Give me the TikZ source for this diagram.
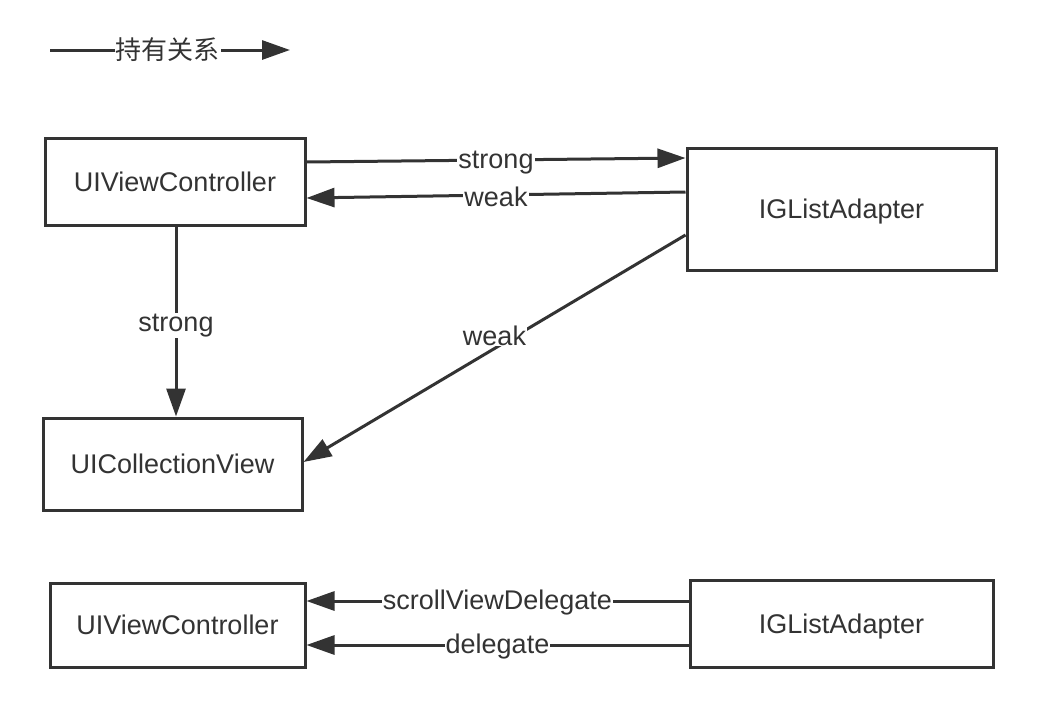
\documentclass[tikz,border=0pt]{standalone}
\usepackage{fontspec}
\setmainfont{Liberation Sans}
\newfontfamily\cjk{Noto Sans CJK SC}
\usetikzlibrary{arrows.meta}
\definecolor{ink}{HTML}{333333}
\begin{document}
\begin{tikzpicture}[x=1pt,y=-1pt,
  box/.style={draw=ink, line width=3pt, text=ink, minimum width=#1, font=\fontsize{27}{31}\selectfont, inner sep=0pt, text depth=0pt},
  link/.style={draw=ink, line width=3pt, -{Triangle[length=28pt,width=19pt]}},
  tag/.style={fill=white, text=ink, inner sep=1pt, font=\fontsize{27}{31}\selectfont}]
\useasboundingbox[fill=white] (0,0) rectangle (1050,720);

% legend
\coordinate (legA) at (50,50);
\coordinate (legB) at (290,50);
\draw[link] (legA) -- (legB) node[tag, pos=0.49, font=\fontsize{26}{30}\selectfont] {\cjk 持有关系};

% boxes
\node[box=260pt, minimum height=87pt] (vc)  at (175,181.5) {UIViewController};
\node[box=309pt, minimum height=122pt] (ad) at (841.5,209) {IGListAdapter};
\node[box=259pt, minimum height=92pt] (cv)  at (172.5,464) {UICollectionView};
\node[box=255pt, minimum height=84pt] (vc2) at (177.5,625) {UIViewController};
\node[box=303pt, minimum height=87pt] (ad2) at (841.5,623.5) {IGListAdapter};

% ownership links
\draw[link] ([yshift=19.5pt]vc.east) -- ([yshift=51pt]ad.west) node[tag, midway, yshift=-3pt] {strong};
\draw[link] ([yshift=17pt]ad.west) -- ([yshift=-16.5pt]vc.east) node[tag, midway, yshift=-2pt] {weak};
\draw[link] ([xshift=1pt]vc.south) -- ([xshift=3.5pt]cv.north) node[tag, midway, yshift=-4pt] {strong};
\draw[link] ([yshift=-26pt]ad.west) -- ([yshift=2pt]cv.east) node[tag, pos=0.5, yshift=13pt] {weak};

% delegate links
\draw[link] ([yshift=22.5pt]ad2.west) -- ([yshift=24pt]vc2.east) node[tag, midway, yshift=-2pt] {scrollViewDelegate};
\draw[link] ([yshift=-21.5pt]ad2.west) -- ([yshift=-20pt]vc2.east) node[tag, midway, yshift=-2pt] {delegate};
\end{tikzpicture}
\end{document}
